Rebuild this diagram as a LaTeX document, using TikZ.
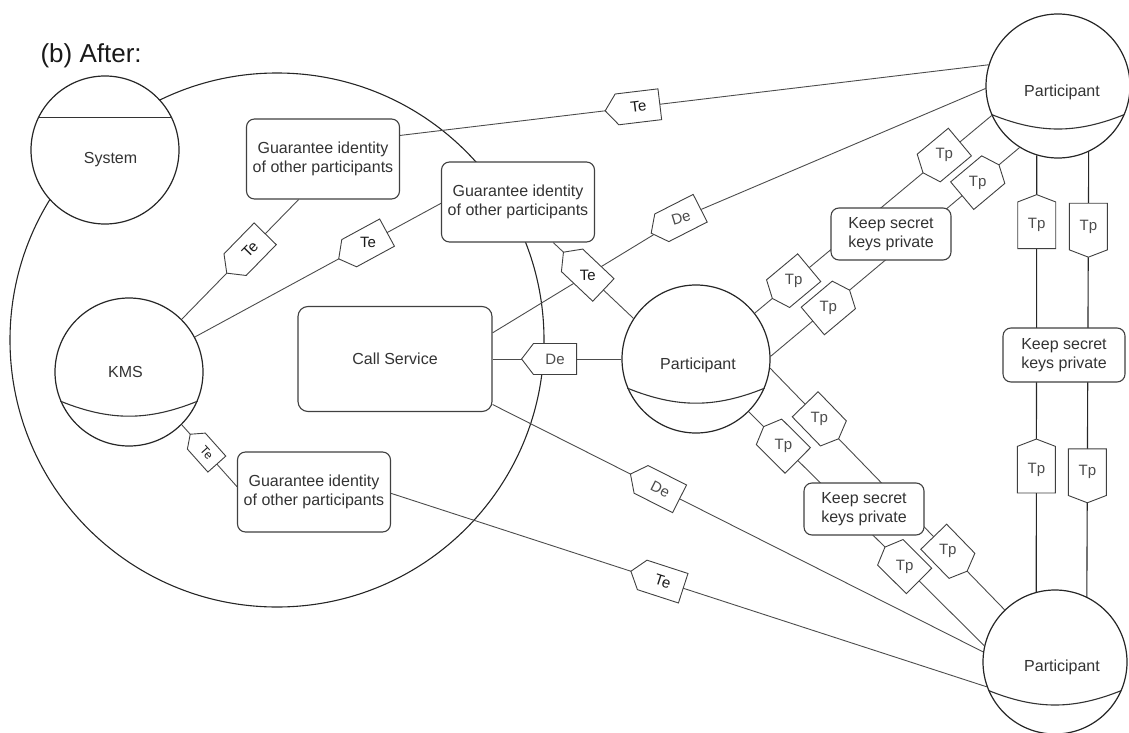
\documentclass[tikz,border=0pt]{standalone}
\usepackage{fontspec}
\usepackage{graphicx}
\setmainfont{Liberation Sans}
\usetikzlibrary{shapes.symbols,backgrounds}
\begin{document}
\begin{tikzpicture}[x=1pt,y=-1pt,
  lbl/.style={font=\fontsize{16}{18.5}\selectfont, text=black!80},
  box/.style={draw=black!75, line width=1.1pt, fill=white, rounded corners=8pt, align=center, inner sep=0pt, lbl},
  keepbox/.style={box, minimum width=120pt, minimum height=52pt},
  guarbox/.style={box, minimum width=153pt, minimum height=80pt},
  sphere/.style={circle, draw=black!85, line width=1.2pt, fill=white, inner sep=0pt},
  equator/.style={draw=black!80, line width=1.1pt},
  conn/.style={draw=black!70, line width=0.9pt},
  vconn/.style={draw=black!85, line width=1.1pt},
  tagbase/.style={shape=signal, signal from=nowhere, signal to=west, draw=black!75, fill=white, line width=0.9pt, inner sep=0pt, font=\fontsize{15}{15}\selectfont},
  tetag/.style={tagbase, signal pointer angle=105, minimum width=55pt, minimum height=31pt, text=black!90},
  detag/.style={tetag, text=black!70},
  tesmall/.style={tagbase, signal pointer angle=105, minimum width=40pt, minimum height=24pt, font=\fontsize{12}{12}\selectfont, text=black!90},
  tptag/.style={tagbase, signal pointer angle=135, minimum width=48pt, minimum height=36pt, text=black!70},
  tpvert/.style={tagbase, signal pointer angle=138, minimum width=38pt, minimum height=50pt, text=black!70},
]
\useasboundingbox (0,0) rectangle (1129,733);

% title
\node[anchor=base west, font=\fontsize{26}{30}\selectfont, text=black!90] (title) at (37,63) {(b) After:};

% spheres
\node[sphere, minimum size=148pt, label={[lbl, xshift=5.5pt, yshift=-10pt]center:System}] (sys) at (105,150) {};
\node[sphere, minimum size=148pt, label={[lbl, xshift=-3.5pt]center:KMS}] (kms) at (129,372) {};
\node[sphere, minimum size=148pt, label={[lbl, xshift=2pt, yshift=-6pt]center:Participant}] (midP) at (696,359) {};
\node[sphere, minimum size=144pt, label={[lbl, xshift=4pt, yshift=-6pt]center:Participant}] (topP) at (1058,86) {};
\node[sphere, minimum size=144pt, label={[lbl, xshift=7pt, yshift=-5pt]center:Participant}] (botP) at (1055,662) {};

% sphere bands
\draw[equator] (sys.154) -- (sys.26);
\draw[equator] (kms.203) to[bend right=22] (kms.-23);
\draw[equator] (midP.203) to[bend right=22] (midP.-23);
\draw[equator] (topP.203) to[bend right=22] (topP.-23);
\draw[equator] (botP.203) to[bend right=22] (botP.-23);

% boxes
\node[guarbox] (g1) at (323,159) {Guarantee identity\\of other participants};
\node[guarbox] (g2) at (518,202) {Guarantee identity\\of other participants};
\node[guarbox] (g3) at (314,492) {Guarantee identity\\of other participants};
\node[box, rounded corners=10pt, minimum width=194pt, minimum height=105pt] (call) at (395,359) {Call Service};
\node[keepbox] (keepA) at (891,234) {Keep secret\\keys private};
\node[keepbox, minimum width=122pt, minimum height=54pt] (keepB) at (1064,355) {Keep secret\\keys private};
\node[keepbox] (keepC) at (864,509) {Keep secret\\keys private};

\begin{scope}[on background layer]
  % system boundary
  \draw[draw=black!85, line width=1.1pt] (277,340) circle[radius=267pt];

  % Te / De links
  \node[detag, rotate=27] (deA) at (681,218) {\rotatebox{-10}{De}};
  \draw[conn] (call.15) -- (deA) -- (topP.182);
  \draw[conn] (g1.17) -- node[tetag, sloped, pos=0.405] (teA) {Te} (topP.163);
  \draw[conn] (kms.45) -- node[tetag, sloped, pos=0.585] (teB) {Te} (g1.-121);
  \draw[conn] (kms.28) -- node[tetag, sloped, pos=0.704] (teC) {\rotatebox{-28.6}{Te}} (g2.181);
  \draw[conn] (kms.-45) -- node[tesmall, sloped, pos=0.45] (teD) {Te} (g3.176);
  \draw[conn] (g3.-1) -- node[tetag, sloped, pos=0.456] (teE) {Te} (botP.200);
  \draw[conn] (call.-25) -- node[detag, sloped, pos=0.342] (deC) {De} (botP.172);
  \draw[conn] (call.east) -- node[detag, pos=0.485] (deB) {De} (midP.180);
  \draw[conn] (g2.-49) -- node[tetag, sloped, pos=0.43] (teF) {\rotatebox{44}{Te}} (midP.147);

  % Tp links through the key boxes
  \draw[conn] (midP.38)
    -- node[tptag, sloped, pos=0.164] (tpA1) {\rotatebox{-39.7}{Tp}}
       node[tptag, sloped, pos=0.80] (tpA2) {\rotatebox{-39.7}{Tp}} (topP.204);
  \draw[conn] (midP.2)
    -- node[tptag, sloped, signal to=east, pos=0.232] (tpB1) {\rotatebox{-39.9}{Tp}}
       node[tptag, sloped, signal to=east, pos=0.832] (tpB2) {\rotatebox{-39.9}{Tp}} (topP.238);
  \draw[conn] (midP.-45)
    -- node[tptag, sloped, pos=0.147] (tpC1) {\rotatebox{44.9}{Tp}}
       node[tptag, sloped, pos=0.662] (tpC3) {\rotatebox{44.9}{Tp}} (botP.167);
  \draw[conn] (midP.-7)
    -- node[tptag, sloped, signal to=east, pos=0.21] (tpC2) {\rotatebox{45.7}{Tp}}
       node[tptag, sloped, signal to=east, pos=0.758] (tpC4) {\rotatebox{45.7}{Tp}} (botP.134);
  \draw[vconn] (topP.-107)
    -- node[tpvert, signal to=north, pos=0.16] (tpV1) {Tp}
       node[tpvert, signal to=north, pos=0.72] (tpV3) {Tp} (botP.105);
  \draw[vconn] (topP.-65)
    -- node[tpvert, signal to=south, pos=0.168] (tpV2) {Tp}
       node[tpvert, signal to=south, pos=0.72] (tpV4) {Tp} (botP.64);
\end{scope}
\end{tikzpicture}
\end{document}
